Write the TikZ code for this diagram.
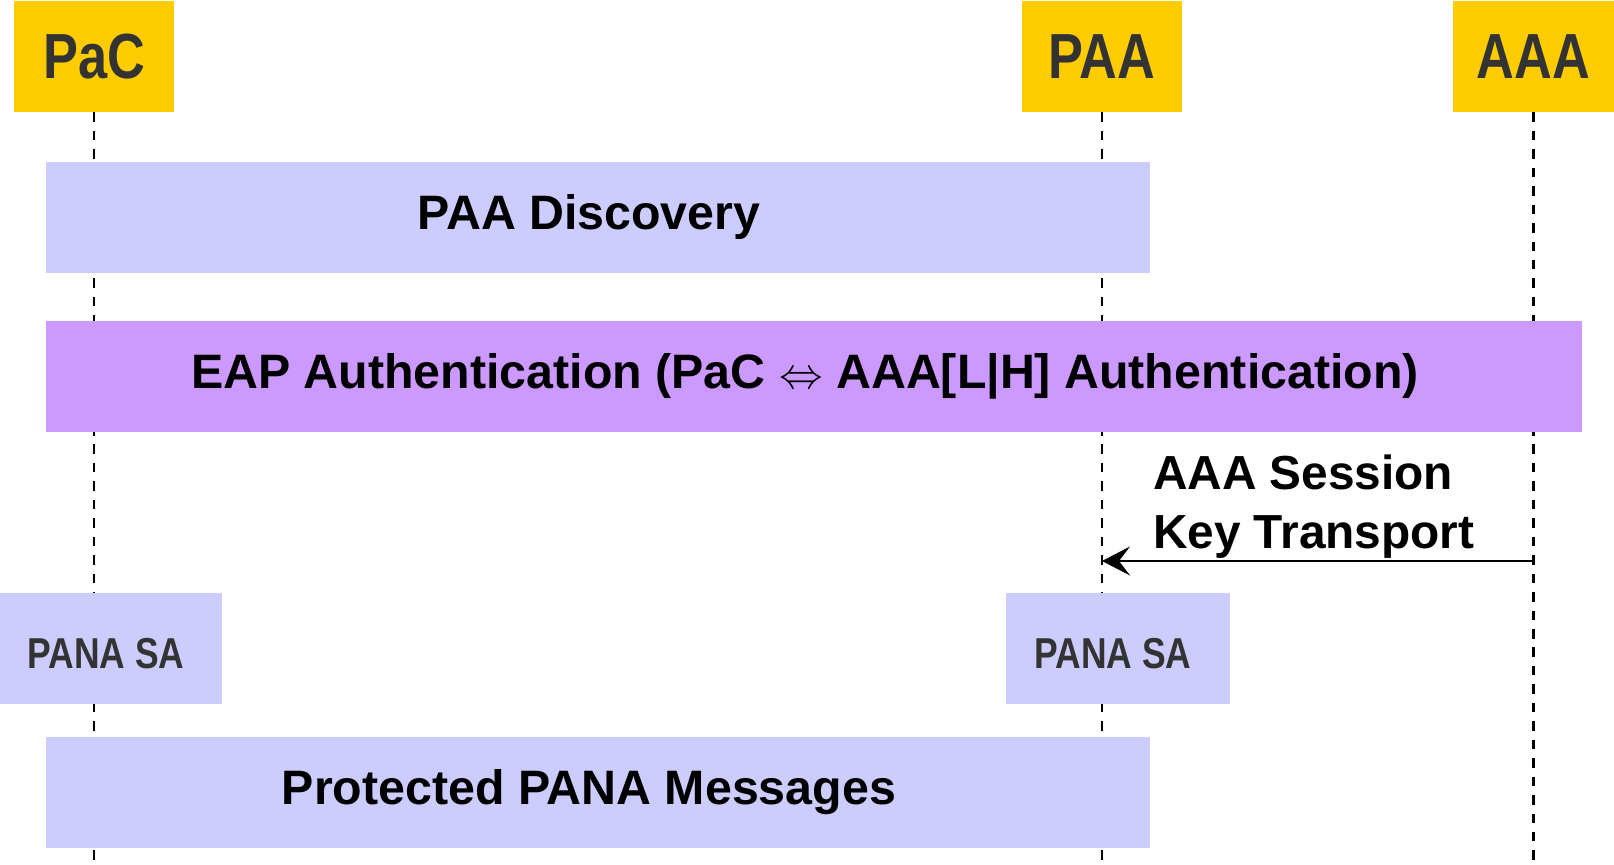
\documentclass[tikz,border=0pt]{standalone}
\usepackage{fontspec}
\setmainfont{Liberation Sans}
\newfontfamily\narrowfont[FakeStretch=0.82]{Liberation Sans}
\usepackage{amssymb}
\usetikzlibrary{arrows.meta}
\definecolor{headyellow}{HTML}{FFCC00}
\definecolor{barblue}{HTML}{CCCCFF}
\definecolor{barpurple}{HTML}{CC99FF}
\definecolor{headtext}{HTML}{333333}

\begin{document}
\begin{tikzpicture}[
  entity/.style={fill=headyellow, text=headtext, inner sep=0pt,
    minimum width=3.2cm, minimum height=2.22cm,
    font=\narrowfont\bfseries\fontsize{36.3}{40}\selectfont},
  bar/.style={fill=barblue, inner sep=0pt, minimum height=2.22cm,
    execute at end node={\hspace*{0.36cm}},
    font=\bfseries\fontsize{27.5}{33.3}\selectfont},
  sa/.style={fill=barblue, text=headtext, inner sep=0pt,
    minimum width=4.44cm, minimum height=2.22cm,
    text height=23.2pt, text depth=0pt,
    execute at end node={\hspace*{0.2cm}},
    font=\narrowfont\bfseries\fontsize{24.6}{28}\selectfont},
  lifeline/.style={line width=1.3pt, dash pattern=on 5.4pt off 5.1pt},
  msg/.style={line width=1pt, -{Stealth[length=0.56cm,width=0.58cm,inset=0.22cm]}}
]
\useasboundingbox (0,0) rectangle (32.28,-17.28);
\coordinate (bottom) at (0,-17.28);

% entities
\node[entity] (pac) at (1.88,-1.13) {PaC};
\node[entity] (paa) at (22.04,-1.13) {PAA};
\node[entity, minimum width=3.22cm] (aaa) at (30.67,-1.13) {AAA};

% lifelines
\draw[lifeline] (pac.south) -- (pac.south |- bottom);
\draw[lifeline] (paa.south) -- (paa.south |- bottom);
\draw[lifeline] (aaa.south) -- (aaa.south |- bottom);

% phases
\node[bar, minimum width=22.08cm] (disc) at (11.96,-4.34) {PAA Discovery};
\node[bar, fill=barpurple, minimum width=30.72cm] (eap) at (16.28,-7.53)
  {EAP Authentication (PaC $\Leftrightarrow$ AAA[L|H] Authentication)};

% key transport
\coordinate (keyfrom) at (aaa.south |- 0,-11.22);
\coordinate (keyto) at (paa.south |- 0,-11.22);
\draw[msg] (keyfrom) -- node[above, align=left, inner sep=0pt, xshift=-0.08cm, yshift=0.04cm,
  font=\bfseries\fontsize{27.2}{33.3}\selectfont] {AAA Session\\Key Transport} (keyto);

\node[sa] (sapac) at (2.22,-12.97) {PANA SA};
\node[sa, minimum width=4.48cm] (sapaa) at (22.36,-12.97) {PANA SA};

\node[bar, minimum width=22.08cm] (prot) at (11.96,-15.85) {Protected PANA Messages};
\end{tikzpicture}
\end{document}
